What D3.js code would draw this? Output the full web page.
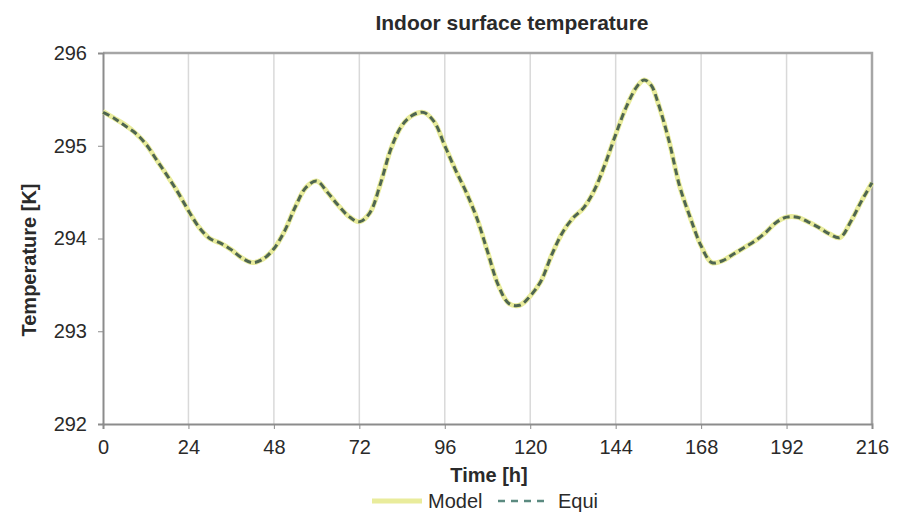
<!DOCTYPE html>
<html>
<head>
<meta charset="utf-8">
<script src="https://cdn.jsdelivr.net/npm/d3@7"></script>
<style>
  html, body { margin: 0; padding: 0; background: #fff; }
  svg { display: block; }
  text { font-family: "Liberation Sans", Arial, sans-serif; fill: #2a2a2a; }
</style>
</head>
<body>
<svg id="chart" width="909" height="515"></svg>
<script>
// Time axis (hours) and simulated indoor surface temperature (K)
const hours = [0, 3, 6, 9, 12, 15, 18, 21, 24, 27, 30, 33, 36, 39, 42, 45, 48, 51, 54, 57,
  60, 63, 66, 69, 72, 75, 78, 81, 84, 87, 90, 93, 96, 99, 102, 105, 108, 111, 114, 117,
  120, 123, 126, 129, 132, 135, 138, 141, 144, 147, 150, 152, 154, 156, 159, 162, 165, 168,
  171, 174, 177, 180, 183, 186, 189, 192, 195, 198, 201, 204, 207, 210, 213, 216];

const modelTemp = [295.37, 295.30, 295.23, 295.14, 295.02, 294.85, 294.68, 294.50, 294.30, 294.12,
  294.00, 293.95, 293.88, 293.79, 293.74, 293.78, 293.89, 294.08, 294.34, 294.55,
  294.62, 294.50, 294.36, 294.24, 294.18, 294.28, 294.60, 294.98, 295.22, 295.33,
  295.36, 295.26, 295.00, 294.74, 294.50, 294.22, 293.86, 293.50, 293.30, 293.28,
  293.38, 293.54, 293.82, 294.06, 294.22, 294.33, 294.52, 294.80, 295.12, 295.42,
  295.64, 295.71, 295.65, 295.45, 295.05, 294.56, 294.22, 293.92,
  293.74, 293.76, 293.83, 293.90, 293.97, 294.06, 294.17, 294.23, 294.23, 294.18,
  294.12, 294.05, 294.01, 294.18, 294.40, 294.60];

const equiTemp = [295.36, 295.30, 295.22, 295.14, 295.02, 294.85, 294.68, 294.50, 294.30, 294.12,
  294.00, 293.95, 293.88, 293.79, 293.74, 293.78, 293.89, 294.08, 294.34, 294.55,
  294.62, 294.50, 294.36, 294.24, 294.18, 294.28, 294.60, 294.98, 295.22, 295.33,
  295.36, 295.26, 295.00, 294.74, 294.50, 294.22, 293.86, 293.50, 293.30, 293.28,
  293.38, 293.54, 293.82, 294.06, 294.22, 294.33, 294.52, 294.80, 295.12, 295.42,
  295.64, 295.71, 295.65, 295.45, 295.05, 294.56, 294.22, 293.92,
  293.74, 293.76, 293.83, 293.90, 293.97, 294.06, 294.17, 294.23, 294.23, 294.18,
  294.12, 294.05, 294.01, 294.18, 294.40, 294.60];

const xTicks = [0, 24, 48, 72, 96, 120, 144, 168, 192, 216];
const yTicks = [292, 293, 294, 295, 296];
const seriesNames = ["Model", "Equi"];

const svg = d3.select("#chart");
const margin = { left: 103, right: 37, top: 53, bottom: 91 };
const W = 909, H = 515;

const x = d3.scaleLinear().domain([0, 216]).range([margin.left, W - margin.right]);
const y = d3.scaleLinear().domain([292, 296]).range([H - margin.bottom, margin.top]);

// vertical grid lines
svg.append("g")
  .selectAll("line")
  .data(xTicks.slice(1, -1))
  .join("line")
  .attr("x1", d => x(d)).attr("x2", d => x(d))
  .attr("y1", y(292)).attr("y2", y(296))
  .attr("stroke", "#d9d9d9").attr("stroke-width", 1.5);

// plot frame (top and right)
svg.append("path")
  .attr("d", `M${x(0)},${y(296)}H${x(216)}V${y(292)}`)
  .attr("fill", "none").attr("stroke", "#a6a6a6").attr("stroke-width", 2.5);

// x axis
const xAxis = svg.append("g")
  .attr("transform", `translate(0,${y(292)})`)
  .call(d3.axisBottom(x).tickValues(xTicks).tickSize(5).tickPadding(11).tickFormat(d3.format("d")));
xAxis.select(".domain").attr("stroke", "#8c8c8c").attr("stroke-width", 2);
xAxis.selectAll(".tick line").attr("stroke", "#8c8c8c");
xAxis.selectAll("text").style("font-size", "20px").attr("fill", "#2a2a2a");

// y axis
const yAxis = svg.append("g")
  .attr("transform", `translate(${x(0)},0)`)
  .call(d3.axisLeft(y).tickValues(yTicks).tickSize(5).tickPadding(11).tickFormat(d3.format("d")));
yAxis.select(".domain").attr("stroke", "#8c8c8c").attr("stroke-width", 2);
yAxis.selectAll(".tick line").attr("stroke", "#8c8c8c");
yAxis.selectAll("text").style("font-size", "20px").attr("fill", "#2a2a2a");

const line = d3.line()
  .x((d, i) => x(hours[i]))
  .y(d => y(d))
  .curve(d3.curveCatmullRom.alpha(0.5));

// Model: light solid line
svg.append("path")
  .datum(modelTemp)
  .attr("d", line)
  .attr("fill", "none")
  .attr("stroke", "#e9ec9c")
  .attr("stroke-width", 5);

// Equi: dark dashed line
svg.append("path")
  .datum(equiTemp)
  .attr("d", line)
  .attr("fill", "none")
  .attr("stroke", "#4f6650")
  .attr("stroke-width", 3)
  .attr("stroke-dasharray", "7,4");

// titles
svg.append("text")
  .attr("x", 512).attr("y", 30)
  .attr("text-anchor", "middle")
  .style("font-size", "21px").style("font-weight", "bold")
  .text("Indoor surface temperature");

svg.append("text")
  .attr("transform", `translate(36,260) rotate(-90)`)
  .attr("text-anchor", "middle")
  .style("font-size", "20px").style("font-weight", "bold")
  .text("Temperature [K]");

svg.append("text")
  .attr("x", 489).attr("y", 482)
  .attr("text-anchor", "middle")
  .style("font-size", "20px").style("font-weight", "bold")
  .text("Time [h]");

// legend
const legend = svg.append("g").attr("transform", "translate(372,501)");
legend.append("line")
  .attr("x1", 0).attr("x2", 50).attr("y1", 0).attr("y2", 0)
  .attr("stroke", "#e9ec9c").attr("stroke-width", 5);
legend.append("text")
  .attr("x", 56).attr("y", 7)
  .style("font-size", "20px")
  .text(seriesNames[0]);
legend.append("line")
  .attr("x1", 126).attr("x2", 176).attr("y1", 0).attr("y2", 0)
  .attr("stroke", "#5b8a80").attr("stroke-width", 2.5)
  .attr("stroke-dasharray", "7,6");
legend.append("text")
  .attr("x", 186).attr("y", 7)
  .style("font-size", "20px")
  .text(seriesNames[1]);
</script>
</body>
</html>
